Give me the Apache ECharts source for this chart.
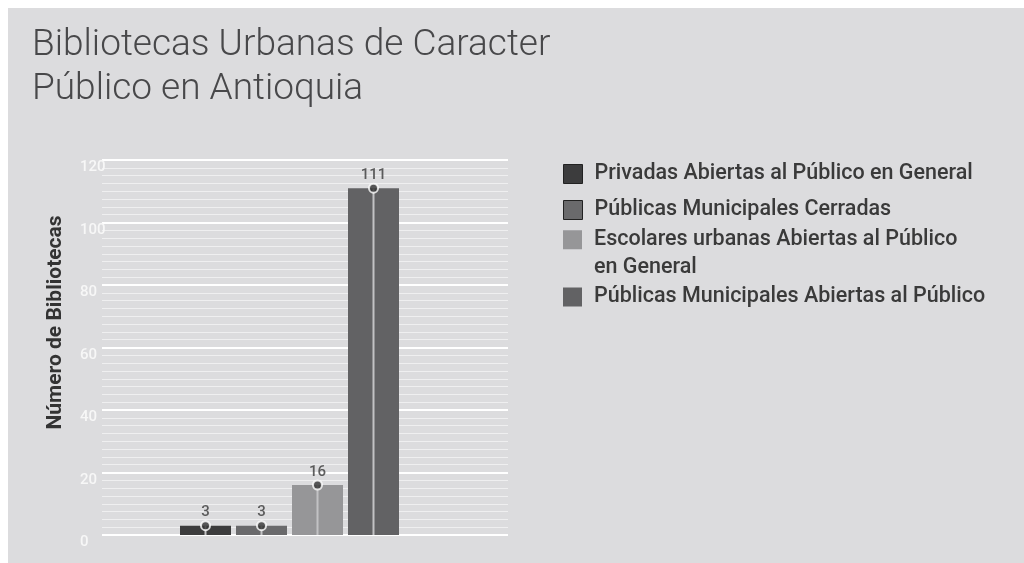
<!DOCTYPE html>
<html>
<head>
<meta charset="utf-8">
<script src="https://cdn.jsdelivr.net/npm/echarts@6/dist/echarts.min.js"></script>
<style>
  html, body { margin: 0; padding: 0; overflow: hidden; background: #fff; }
  #main { position: absolute; left: 8px; top: 8px; width: 1016px; height: 555px; background: #dcdcde; }
</style>
</head>
<body>
<div id="main"></div>
<script>
// datos
var categorias = [
  "Privadas Abiertas al Público en General",
  "Públicas Municipales Cerradas",
  "Escolares urbanas Abiertas al Público\nen General",
  "Públicas Municipales Abiertas al Público"
];
var valores = [3, 3, 16, 111];
var yMin = 0, yMax = 120, yPaso = 20;

var colores = ["#3c3c3d", "#6a6a6c", "#969698", "#626264"];
var fuente = "Roboto";

var myChart = echarts.init(document.getElementById("main"));

var series = [];
// una serie por categoria para que la leyenda tenga un color por barra
categorias.forEach(function (nombre, i) {
  series.push({
    name: nombre,
    type: "bar",
    xAxisIndex: 1,
    yAxisIndex: 1,
    stack: "b",
    barWidth: 51,
    itemStyle: { color: colores[i] },
    data: valores.map(function (v, j) { return j === i ? v : "-"; }),
    z: 2
  });
});
// linea fina vertical sobre cada barra
series.push({
  name: "guia",
  type: "bar",
  xAxisIndex: 2,
  yAxisIndex: 1,
  barWidth: 2,
  itemStyle: { color: "#c2c2c4" },
  data: valores,
  z: 3,
  silent: true
});
// marcador y etiqueta
series.push({
  name: "valor",
  type: "scatter",
  xAxisIndex: 1,
  yAxisIndex: 1,
  symbol: "circle",
  symbolSize: 9,
  itemStyle: { color: "#333", borderColor: "#fff", borderWidth: 2 },
  label: {
    show: true,
    position: "top",
    distance: 0,
    color: "#3a3a3a",
    fontFamily: fuente,
    fontWeight: 500,
    fontSize: 15
  },
  data: valores,
  z: 4
});

var legendaBase = {
  orient: "vertical",
  left: 555,
  padding: 0,
  itemWidth: 19,
  itemHeight: 19,
  itemGap: 14,
  icon: "rect",
  selectedMode: false,
  textStyle: {
    color: "#3a3a3a",
    fontFamily: fuente,
    fontWeight: 500,
    fontSize: 21.5,
    padding: [0, 0, 0, 7]
  }
};

myChart.setOption({
  backgroundColor: "#dcdcde",
  title: {
    text: "Bibliotecas Urbanas de Caracter\nPúblico en Antioquia",
    left: 24,
    top: 16,
    padding: 0,
    textStyle: {
      color: "#48484a",
      fontFamily: fuente,
      fontWeight: 300,
      fontSize: 37,
      lineHeight: 44
    }
  },
  legend: [
    Object.assign({}, legendaBase, {
      top: 155,
      data: [
        { name: categorias[0], itemStyle: { borderColor: "#222", borderWidth: 1 } },
        { name: categorias[1], itemStyle: { borderColor: "#222", borderWidth: 1 } }
      ]
    }),
    Object.assign({}, legendaBase, {
      top: 190.5,
      data: [categorias[2]],
      // linea vacia arriba para alinear el icono con la primera linea
      formatter: function (name) { return "\n" + name; },
      textStyle: Object.assign({}, legendaBase.textStyle, { lineHeight: 27.5 })
    }),
    Object.assign({}, legendaBase, {
      top: 278,
      data: [categorias[3]]
    })
  ],
  grid: [
    { left: 94, right: 516, top: 152, bottom: 28 },
    { left: 169.5, right: 622.5, top: 152, bottom: 28 }
  ],
  xAxis: [
    { type: "category", gridIndex: 0, data: [""], show: false },
    { type: "category", gridIndex: 1, data: categorias, show: false },
    { type: "category", gridIndex: 1, data: categorias, show: false }
  ],
  yAxis: [
    {
      type: "value",
      gridIndex: 0,
      min: yMin,
      max: yMax,
      interval: yPaso,
      name: "Número de Bibliotecas",
      nameLocation: "middle",
      nameGap: 36,
      nameTextStyle: {
        color: "#333",
        fontFamily: fuente,
        fontWeight: "bold",
        fontSize: 21,
        padding: [0, 0, 0, 50]
      },
      axisLine: { show: false },
      axisTick: { show: false },
      axisLabel: {
        color: "#f7f7f7",
        fontFamily: fuente,
        fontWeight: 500,
        fontSize: 15,
        align: "left",
        verticalAlign: "top",
        lineHeight: 15,
        margin: 22
      },
      splitLine: { show: true, lineStyle: { color: "#ffffff", width: 2 } },
      minorTick: { show: false, splitNumber: 8 },
      minorSplitLine: { show: true, lineStyle: { color: "#efeff0", width: 1 } }
    },
    {
      type: "value",
      gridIndex: 1,
      min: yMin,
      max: yMax,
      interval: yPaso,
      show: false
    }
  ],
  series: series
});
</script>
</body>
</html>
